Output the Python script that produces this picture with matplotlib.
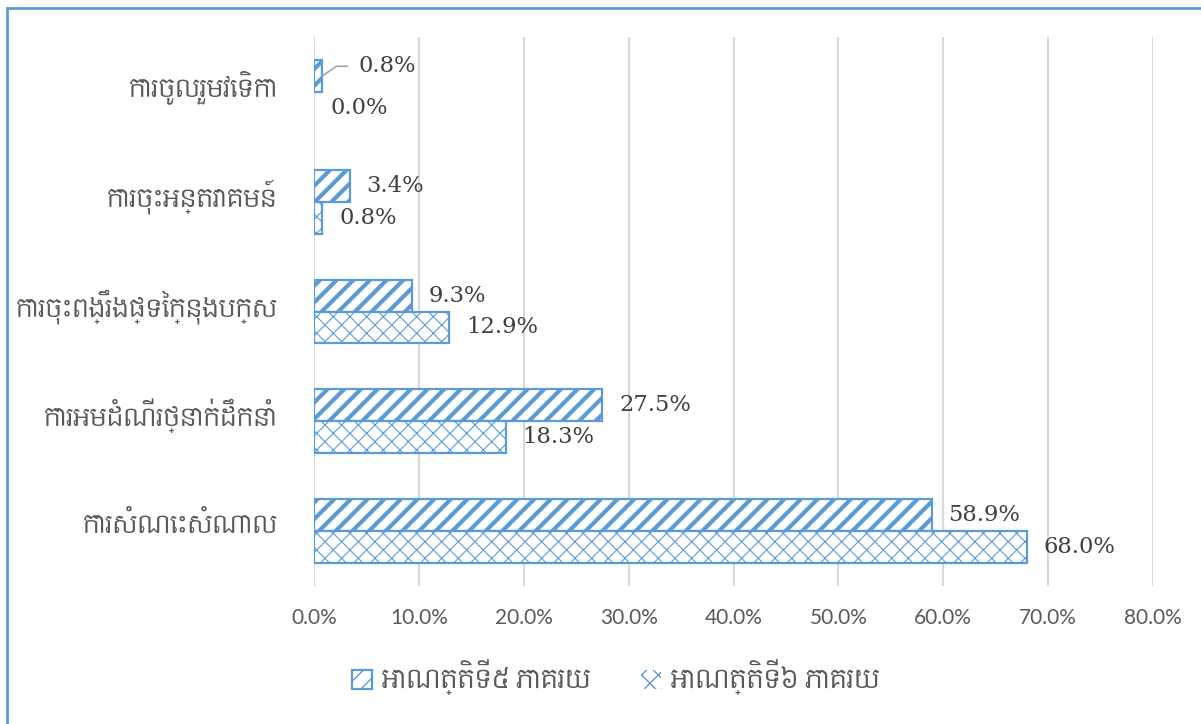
import matplotlib
matplotlib.use("Agg")
import matplotlib.pyplot as plt
from matplotlib.patches import Rectangle
from matplotlib.transforms import ScaledTranslation

# ---- data (top to bottom as shown) ----
categories = [
    "ការចូលរួមវេទិកា",
    "ការចុះអន្តរាគមន៍",
    "ការចុះពង្រឹងផ្ទៃក្នុងបក្ស",
    "ការអមដំណើរថ្នាក់ដឹកនាំ",
    "ការសំណេះសំណាល",
]
term5 = [0.8, 3.4, 9.3, 27.5, 58.9]
term6 = [0.0, 0.8, 12.9, 18.3, 68.0]
series_names = ["អាណត្តិទី៥ ភាគរយ", "អាណត្តិទី៦ ភាគរយ"]
xticks = [0, 10, 20, 30, 40, 50, 60, 70, 80]

KHMER = ["Content", "Battambang", "Noto Sans Khmer", "DejaVu Sans"]
BLUE = "#5B9BD5"
GRID = "#D9D9D9"
TXT = "#595959"
LBL = "#404040"

W, H = 1201, 724
fig = plt.figure(figsize=(W / 100, H / 100), dpi=100)
ax = fig.add_axes([314 / W, 1 - 586 / H, 839 / W, 549 / H])

pos = list(range(len(categories)))
bh = 0.29


def hatched_bars(y, vals, hatch, hlw):
    with plt.rc_context({"hatch.linewidth": hlw, "hatch.color": BLUE}):
        bars = ax.barh(y, vals, height=bh, facecolor="white", edgecolor=BLUE,
                       linewidth=1.6, hatch=hatch, zorder=3)
    for b, v in zip(bars, vals):
        if hasattr(b, "set_hatch_linewidth"):
            b.set_hatch_linewidth(hlw)
        if v == 0:
            b.set_linewidth(0)
    return bars


b5 = hatched_bars([p - bh / 2 for p in pos], term5, "//", 3.0)
b6 = hatched_bars([p + bh / 2 for p in pos], term6, "xx", 0.8)

ax.set_xlim(0, 80)
ax.set_ylim(len(categories) - 0.5, -0.5)
ax.set_xticks(xticks)
ax.set_xticklabels([f"{v:.1f}%" for v in xticks], fontsize=15, color=TXT,
                   family=["Lato", "DejaVu Sans"])
ax.set_yticks(pos)
ax.set_yticklabels(categories, fontsize=17.5, color=TXT, family=KHMER)
ax.tick_params(axis="x", length=0, pad=16)
ax.tick_params(axis="y", length=0, pad=26)
# khmer labels sit a little above the bar-group centre
shift = ScaledTranslation(0, 9 / 100, fig.dpi_scale_trans)
for t in ax.get_yticklabels():
    t.set_transform(t.get_transform() + shift)
for s in ax.spines.values():
    s.set_visible(False)
ax.grid(axis="x", color=GRID, linewidth=1.5, zorder=0)
ax.set_axisbelow(True)

# data labels
lab_kw = dict(fontsize=16.3, color=LBL, family=["DejaVu Serif"],
              va="center", ha="left", textcoords="offset points")
for i, (bars, vals) in enumerate([(b5, term5), (b6, term6)]):
    for j, (b, v) in enumerate(zip(bars, vals)):
        yc = b.get_y() + b.get_height() / 2
        if i == 0 and j == 0:
            # moved label with leader line
            ax.annotate(f"{v:.1f}%", xy=(v, yc), xytext=(26, 7),
                        arrowprops=dict(arrowstyle="-", color="#A6A6A6", lw=1.2,
                                        shrinkA=6, shrinkB=0, relpos=(0, 0.5),
                                        connectionstyle="angle,angleA=0,angleB=35,rad=0"),
                        **lab_kw)
        else:
            ax.annotate(f"{v:.1f}%", xy=(v, yc), xytext=(12, 0), **lab_kw)

# legend
fig.legend([b5, b6], series_names, loc="center", ncol=2,
           bbox_to_anchor=(616 / W, 1 - 677 / H), frameon=False,
           prop={"family": KHMER, "size": 18}, labelcolor=TXT,
           handlelength=0.8, handleheight=0.8, handletextpad=0.4,
           columnspacing=2.0)

# chart border
fig.patches.append(Rectangle((6.5 / W, -0.05), 1.2, 1 - 7.5 / H + 0.05,
                             transform=fig.transFigure, fill=False,
                             edgecolor=BLUE, linewidth=2))

fig.savefig("out.png", dpi=100)
